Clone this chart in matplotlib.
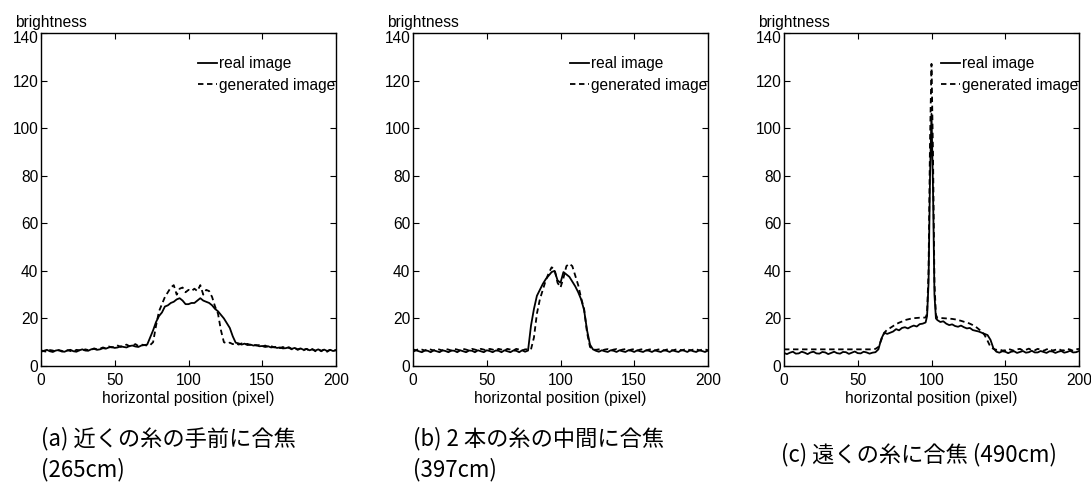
import numpy as np
import matplotlib
matplotlib.use('Agg')
import matplotlib.pyplot as plt
from matplotlib.transforms import ScaledTranslation

plt.rcParams['font.family'] = ['Liberation Sans', 'DejaVu Sans']

# horizontal positions (pixel)
x_ab = list(range(0, 201, 2))
x_c = list(range(0, 97, 2)) + [97, 98, 99, 100, 101, 102, 103] + list(range(104, 201, 2))

# (a) focus in front of the near thread (265cm)
real_a = [6.0, 6.4, 6.8, 6.2, 5.9, 6.5, 6.7, 6.1, 6.0, 6.6, 6.8,
          6.2, 6.0, 6.6, 7.0, 6.5, 6.4, 7.0, 7.2, 6.8, 7.0,
          7.5, 7.3, 7.8, 8.0, 7.6, 7.8, 8.3, 8.0, 7.8, 8.4,
          8.6, 8.2, 8.0, 8.6, 8.8,
          9.0, 12.0, 15.0, 18.5, 21.0, 22.5, 25.0, 25.5, 26.5, 27.0,
          28.0, 28.5, 27.5, 26.0, 26.0, 26.5, 26.5, 27.5, 28.5, 27.5,
          27.0, 26.5, 25.5, 24.0, 23.0, 21.5, 20.0, 18.0, 16.0, 12.5,
          9.8, 9.5, 9.0, 9.4, 8.8, 9.0, 8.6, 8.8, 8.3, 8.4,
          8.0, 8.3, 7.8, 8.0, 7.6, 7.8, 7.4, 7.5, 7.9, 7.2,
          7.6, 7.0, 7.4, 6.8, 7.2, 6.6, 7.0, 6.5, 7.0, 6.4,
          6.9, 6.3, 6.8, 6.3, 6.6]
gen_a = [6.6, 6.2, 6.0, 6.7, 6.5, 6.0, 6.6, 6.4, 5.9, 6.6, 6.3,
         6.0, 6.8, 6.6, 6.4, 7.0, 6.7, 6.8, 7.4, 7.0, 7.3,
         7.8, 7.4, 8.2, 7.8, 8.0, 8.6, 8.0, 8.5, 9.0, 8.3,
         8.6, 9.2, 8.4, 9.0, 8.8,
         8.6, 8.8, 10.0, 17.0, 23.0, 26.0, 29.0, 31.0, 33.0, 34.0,
         30.0, 32.5, 33.0, 31.0, 32.0, 31.5, 32.5, 31.5, 34.0, 30.0,
         32.0, 31.5, 29.0, 25.0, 22.0, 15.0, 10.0, 9.5, 9.8, 9.2,
         9.6, 9.0, 9.5, 9.0, 9.3, 8.8, 9.0, 8.6, 8.8, 8.2,
         8.6, 8.0, 8.4, 7.8, 8.2, 7.5, 8.0, 7.3, 7.7, 7.0,
         7.6, 6.8, 7.3, 6.6, 7.2, 6.5, 7.1, 6.2, 7.0, 6.2,
         7.0, 6.0, 6.8, 6.2, 6.8]

# (b) focus between the two threads (397cm)
real_b = [6.0, 6.6, 6.2, 5.8, 6.5, 6.4, 5.8, 6.6, 6.2, 5.8,
          6.6, 6.3, 5.8, 6.5, 6.4, 5.8, 6.6, 6.2, 5.8, 6.5,
          6.4, 5.8, 6.6, 6.2, 5.8, 6.6, 6.3, 5.8, 6.5, 6.4,
          5.8, 6.6, 6.2, 5.8, 6.5, 6.4, 5.8, 6.6, 6.0,
          6.5, 17.0, 24.0, 29.5, 32.0, 34.5, 36.5, 38.0, 39.5, 40.0,
          36.0, 35.0, 39.5, 38.5, 37.5, 35.5, 33.5, 31.0, 28.0, 23.5,
          15.0, 9.0, 7.0,
          6.4, 6.0, 6.6, 6.2, 5.9, 6.6, 6.4, 5.9, 6.6, 6.2,
          5.9, 6.6, 6.4, 5.9, 6.6, 6.2, 5.9, 6.6, 6.4, 5.9,
          6.6, 6.2, 5.9, 6.6, 6.4, 5.9, 6.6, 6.2, 5.9, 6.7,
          6.4, 5.9, 6.7, 6.2, 5.9, 6.6, 6.3, 5.9, 6.5]
gen_b = [7.0, 6.6, 7.2, 6.9, 6.5, 7.2, 6.9, 6.5, 7.2, 6.9,
         6.5, 7.2, 6.9, 6.5, 7.2, 6.9, 6.5, 7.2, 6.9, 6.5,
         7.2, 6.9, 6.5, 7.2, 6.9, 6.5, 7.2, 6.9, 6.5, 7.2,
         6.9, 6.5, 7.2, 6.9, 6.5, 7.2, 6.9, 6.5, 7.0,
         7.0, 7.0, 12.0, 22.0, 28.0, 32.0, 36.0, 39.0, 41.5, 40.5,
         35.0, 33.0, 37.0, 42.0, 43.0, 42.0, 38.0, 34.0, 28.5, 24.0,
         14.0, 8.0, 7.0,
         6.8, 7.0, 6.5, 6.9, 7.1, 6.5, 6.9, 7.1, 6.5, 6.9,
         7.1, 6.5, 6.9, 7.1, 6.5, 6.9, 7.1, 6.5, 6.9, 7.1,
         6.5, 6.9, 7.1, 6.5, 6.9, 7.1, 6.5, 6.9, 7.1, 6.5,
         6.9, 7.1, 6.5, 6.9, 7.1, 6.5, 6.9, 7.0, 6.6]

# (c) focus on the far thread (490cm)
real_c = [5.5, 5.0, 5.6, 6.0, 5.2, 5.3, 6.0, 5.6, 5.0, 5.7,
          6.0, 5.3, 5.2, 5.9, 5.7, 5.0, 5.5, 6.0, 5.4, 5.2,
          5.9, 5.8, 5.1, 5.6, 6.1, 5.4, 5.3, 6.0, 5.7, 5.2,
          5.6, 5.8,
          7.0, 11.5, 14.0, 13.5, 14.0, 14.5, 15.5, 15.0, 16.0, 16.3,
          15.8, 16.5, 17.0, 16.6, 17.6, 17.8, 18.3,
          21.0, 35.0, 80.0, 106.0, 75.0, 30.0, 20.0,
          19.3, 18.5, 18.8, 17.8, 17.2, 17.5, 16.8, 16.5, 17.0, 16.3,
          15.8, 16.0, 15.1, 14.8, 14.5, 14.0, 13.5, 13.0, 11.0, 7.4,
          6.0, 5.6, 6.2, 6.0, 5.4, 6.0, 6.2, 5.5, 5.9, 6.3,
          5.6, 5.8, 6.4, 5.7, 5.7, 6.3, 5.9, 5.5, 6.2, 6.1,
          5.5, 6.0, 6.3, 5.6, 5.9, 6.4, 5.7, 5.8, 6.3]
gen_c = [7.0, 7.0, 7.0, 7.0, 7.0, 7.0, 7.0, 7.0, 7.0, 7.0,
         7.0, 7.0, 7.0, 7.0, 7.0, 7.0, 7.0, 7.0, 7.0, 7.0,
         7.0, 7.0, 7.0, 7.0, 7.0, 7.0, 7.0, 7.0, 7.0, 7.0,
         7.0, 7.2,
         8.0, 11.0, 14.0, 15.3, 16.0, 16.8, 17.6, 18.2, 18.7, 19.3,
         19.6, 19.9, 20.1, 20.2, 20.3, 20.3, 20.4,
         22.0, 40.0, 95.0, 127.0, 90.0, 35.0, 21.5,
         20.2, 20.2, 20.1, 20.0, 19.9, 19.8, 19.6, 19.3, 19.0, 18.6,
         18.3, 17.8, 17.2, 16.5, 15.5, 14.5, 13.0, 10.6, 8.0, 7.2,
         6.8, 7.0, 6.5, 6.6, 7.2, 6.8, 6.4, 7.0, 7.2, 6.5,
         6.8, 7.3, 6.6, 6.6, 7.2, 6.9, 6.4, 7.0, 7.3, 6.5,
         6.8, 7.2, 6.6, 6.6, 7.2, 6.9, 6.4, 7.0, 7.2]

captions = [['(a) 近くの糸の手前に合焦', '(265cm)'],
            ['(b) 2 本の糸の中間に合焦', '(397cm)'],
            ['(c) 遠くの糸に合焦 (490cm)']]

fig = plt.figure(figsize=(10.91, 4.93), dpi=100)
W, H = 1091, 493
lefts = [41, 413, 784]
panels = [(x_ab, real_a, gen_a), (x_ab, real_b, gen_b), (x_c, real_c, gen_c)]
fs = 11.2

for i, (xs, real, gen) in enumerate(panels):
    ax = fig.add_axes([lefts[i] / W, (H - 366) / H, 295 / W, 333 / H])
    ax.plot(xs, real, color='black', lw=1.3, label='real image')
    ax.plot(xs, gen, color='black', lw=1.3, dashes=(3, 2), label='generated image')
    ax.set_xlim(0, 200)
    ax.set_ylim(0, 140)
    ax.set_xticks([0, 50, 100, 150, 200])
    ax.set_yticks([0, 20, 40, 60, 80, 100, 120, 140])
    ax.tick_params(direction='in', top=True, right=True, length=4, width=0.8,
                   labelsize=fs)
    ax.tick_params(axis='x', pad=5)
    ax.tick_params(axis='y', pad=2)
    # top label sits a little below its tick, as in the original
    top_lbl = ax.get_yticklabels()[-1]
    top_lbl.set_transform(top_lbl.get_transform() +
                          ScaledTranslation(0, -4 / 100, fig.dpi_scale_trans))
    for s in ax.spines.values():
        s.set_linewidth(1.0)
    ax.set_xlabel('horizontal position (pixel)', fontsize=fs, labelpad=2)
    ax.text(-0.088, 1.033, 'brightness', transform=ax.transAxes,
            fontsize=fs, ha='left', va='center')
    ax.legend(loc='upper left', bbox_to_anchor=(0.532, 0.93), frameon=False,
              fontsize=fs, handlelength=1.2, handletextpad=0.15,
              labelspacing=0.42, borderpad=0, borderaxespad=0)

cap_x = [41, 413, 781]
for cx, lines in zip(cap_x, captions):
    ys = [439, 470] if len(lines) == 2 else [455]
    for cy, line in zip(ys, lines):
        fig.text(cx / W, 1 - cy / H, line, fontsize=16, ha='left', va='center',
                 family=['Noto Sans CJK JP', 'DejaVu Sans'])

fig.savefig('out.png', dpi=100)
